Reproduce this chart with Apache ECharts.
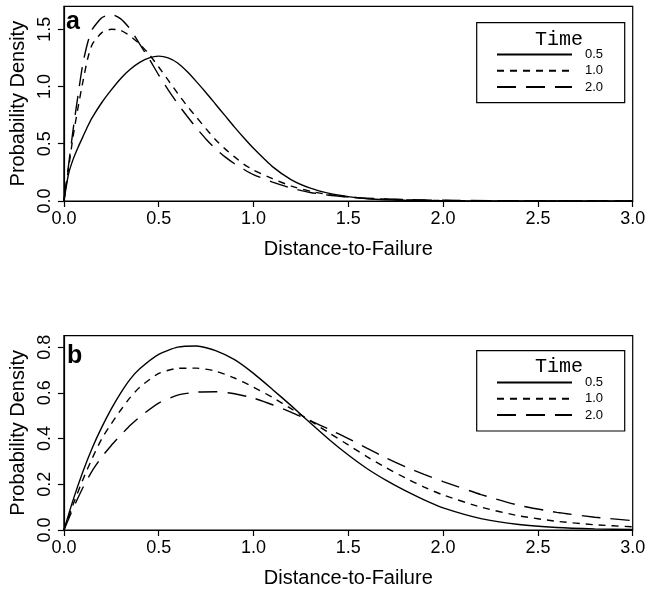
<!DOCTYPE html>
<html>
<head>
<meta charset="utf-8">
<script src="https://cdn.jsdelivr.net/npm/echarts@6/dist/echarts.min.js"></script>
<style>html,body{margin:0;padding:0;background:#fff}#c{width:655px;height:593px}</style>
</head>
<body>
<div id="c"></div>
<script>
// ---- Data ----
const seriesNames = ['0.5', '1.0', '2.0'];
const xTicks = [0, 0.5, 1.0, 1.5, 2.0, 2.5, 3.0];
const yTicksA = [0, 0.5, 1.0, 1.5];
const yTicksB = [0, 0.2, 0.4, 0.6, 0.8];

// Panel a
const xA = [0,0.025,0.05,0.075,0.1,0.125,0.15,0.2,0.25,0.3,0.35,0.4,0.45,0.5,0.55,0.6,0.65,0.7,0.75,0.8,0.85,0.9,0.95,1.0,1.1,1.2,1.3,1.4,1.5,1.6,1.8,2.0,2.5,3.0];
const a_t05 = [0,0.24,0.37,0.47,0.56,0.65,0.73,0.86,0.97,1.07,1.15,1.21,1.25,1.265,1.25,1.205,1.13,1.04,0.945,0.845,0.745,0.645,0.55,0.46,0.30,0.185,0.112,0.066,0.038,0.02,0.006,0.002,0,0];
const a_t10 = [0,0.29,0.58,0.82,1.04,1.24,1.37,1.47,1.50,1.49,1.44,1.37,1.28,1.17,1.055,0.94,0.83,0.73,0.63,0.535,0.455,0.385,0.32,0.27,0.195,0.13,0.085,0.054,0.035,0.022,0.01,0.004,0.001,0];
const a_t20 = [0,0.32,0.64,0.93,1.20,1.38,1.50,1.60,1.63,1.59,1.50,1.37,1.24,1.10,0.97,0.85,0.74,0.635,0.54,0.455,0.385,0.325,0.275,0.23,0.165,0.112,0.074,0.05,0.035,0.025,0.012,0.006,0.001,0];

// Panel b
const xB = [0,0.05,0.1,0.15,0.2,0.25,0.3,0.35,0.4,0.5,0.6,0.7,0.8,0.9,1.0,1.1,1.2,1.3,1.4,1.5,1.6,1.7,1.8,1.9,2.0,2.2,2.4,2.6,2.8,3.0];
const b_t05 = [0,0.135,0.255,0.36,0.45,0.53,0.60,0.66,0.705,0.768,0.80,0.805,0.785,0.745,0.685,0.615,0.543,0.468,0.395,0.328,0.268,0.217,0.172,0.132,0.097,0.05,0.024,0.011,0.005,0.002];
const b_t10 = [0,0.115,0.22,0.315,0.40,0.465,0.525,0.58,0.625,0.685,0.707,0.708,0.695,0.665,0.625,0.58,0.53,0.477,0.424,0.372,0.32,0.272,0.228,0.188,0.153,0.10,0.062,0.038,0.023,0.014];
const b_t20 = [0,0.097,0.185,0.26,0.32,0.37,0.415,0.458,0.495,0.555,0.59,0.603,0.605,0.596,0.577,0.548,0.515,0.478,0.44,0.40,0.357,0.315,0.277,0.243,0.212,0.155,0.108,0.077,0.056,0.041];

// ---- Styles ----
const FONT = "'Liberation Sans', Arial, Helvetica, sans-serif";
const dashStyles = ['solid', [7, 6], [19, 10]];
const pair = (xs, ys) => xs.map((x, i) => [x, ys[i]]);

function xAxis(gi) {
  return {
    type: 'value', gridIndex: gi, min: 0, max: 3, interval: 0.5,
    name: 'Distance-to-Failure', nameLocation: 'middle', nameGap: 38,
    nameTextStyle: { fontFamily: FONT, fontSize: 20, color: '#000' },
    axisLine: { show: true, lineStyle: { color: '#000', width: 1.2 } },
    axisTick: { show: true, inside: false, length: 6, lineStyle: { color: '#000', width: 1.2 }, customValues: xTicks },
    axisLabel: { fontFamily: FONT, fontSize: 18, color: '#000', margin: 9, customValues: xTicks, formatter: v => v.toFixed(1) },
    splitLine: { show: false }
  };
}
function yAxis(gi, max, ticks) {
  return {
    type: 'value', gridIndex: gi, min: 0, max: max,
    name: 'Probability Density', nameLocation: 'middle', nameGap: 27, nameRotate: 90,
    nameTextStyle: { fontFamily: FONT, fontSize: 20, color: '#000' },
    axisLine: { show: true, lineStyle: { color: '#000', width: 1.2 } },
    axisTick: { show: true, inside: false, length: 6, lineStyle: { color: '#000', width: 1.2 }, customValues: ticks },
    axisLabel: { fontFamily: FONT, fontSize: 18, color: '#000', margin: 10, rotate: 90, customValues: ticks, formatter: v => v.toFixed(1) },
    splitLine: { show: false }
  };
}
function line(name, gi, data, k) {
  return {
    type: 'line', name: name, xAxisIndex: gi, yAxisIndex: gi,
    data: data, showSymbol: false, symbol: 'none', smooth: 0.2,
    lineStyle: { color: '#000', width: 1.4, type: dashStyles[k] },
    itemStyle: { color: '#000' }, animation: false
  };
}
function legend(left, top) {
  return {
    data: seriesNames, orient: 'vertical', left: left, top: top, padding: 0,
    itemWidth: 75, itemHeight: 14, itemGap: 2.3, selectedMode: false,
    itemStyle: { color: 'rgba(0,0,0,0)', borderWidth: 0, opacity: 0 },
    textStyle: { fontFamily: FONT, fontSize: 13, color: '#000', lineHeight: 14, padding: [0, 0, 0, 8] }
  };
}

const chart = echarts.init(document.getElementById('c'), null, { renderer: 'canvas' });
chart.setOption({
  backgroundColor: '#fff',
  animation: false,
  grid: [
    { left: 61, right: 22.3, top: 6.3, height: 194.7, show: true, borderColor: '#000', borderWidth: 1.2, containLabel: false },
    { left: 61, right: 22.3, top: 335.7, height: 194.3, show: true, borderColor: '#000', borderWidth: 1.2, containLabel: false }
  ],
  xAxis: [xAxis(0), xAxis(1)],
  yAxis: [yAxis(0, 1.7, yTicksA), yAxis(1, 0.85, yTicksB)],
  legend: [legend(496, 47.5), legend(496, 375.5)],
  series: [
    line(seriesNames[0], 0, pair(xA, a_t05), 0),
    line(seriesNames[1], 0, pair(xA, a_t10), 1),
    line(seriesNames[2], 0, pair(xA, a_t20), 2),
    line(seriesNames[0], 1, pair(xB, b_t05), 0),
    line(seriesNames[1], 1, pair(xB, b_t10), 1),
    line(seriesNames[2], 1, pair(xB, b_t20), 2)
  ],
  graphic: [
    { type: 'rect', shape: { x: 476.7, y: 22.7, width: 148, height: 80 }, style: { fill: 'none', stroke: '#000', lineWidth: 1.2 } },
    { type: 'rect', shape: { x: 476.7, y: 350.7, width: 148, height: 80.3 }, style: { fill: 'none', stroke: '#000', lineWidth: 1.2 } },
    { type: 'text', x: 559, y: 40, style: { text: 'Time', font: "20px 'Liberation Mono', 'Courier New', monospace", fill: '#000', align: 'center', verticalAlign: 'middle' } },
    { type: 'text', x: 559, y: 367, style: { text: 'Time', font: "20px 'Liberation Mono', 'Courier New', monospace", fill: '#000', align: 'center', verticalAlign: 'middle' } },
    { type: 'text', x: 66, y: 22, style: { text: 'a', font: "bold 25px " + FONT, fill: '#000', align: 'left', verticalAlign: 'middle' } },
    { type: 'text', x: 67, y: 356, style: { text: 'b', font: "bold 25px " + FONT, fill: '#000', align: 'left', verticalAlign: 'middle' } }
  ]
});
</script>
</body>
</html>
